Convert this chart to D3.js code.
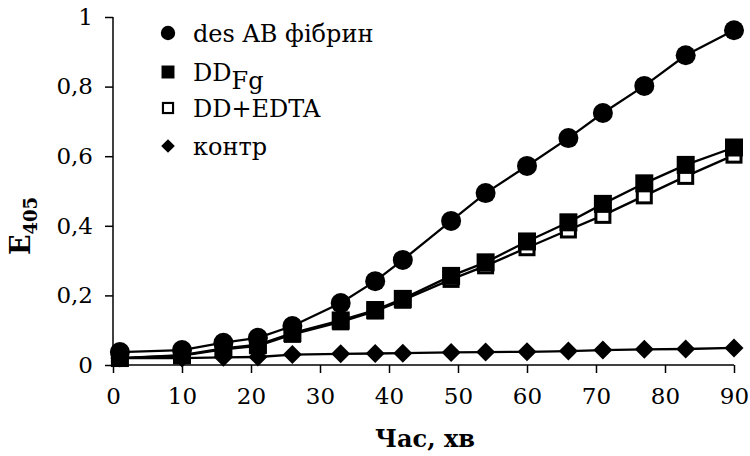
<!DOCTYPE html>
<html>
<head>
<meta charset="utf-8">
<script src="https://cdn.jsdelivr.net/npm/d3@7"></script>
<style>
  html, body { margin: 0; padding: 0; background: #fff; }
  svg { display: block; }
  text { font-family: "DejaVu Serif", "Liberation Serif", serif; fill: #000; }
</style>
</head>
<body>
<svg id="chart" width="750" height="456"></svg>
<script>
// Time points, minutes
const times = [1, 10, 16, 21, 26, 33, 38, 42, 49, 54, 60, 66, 71, 77, 83, 90];

// Absorbance at 405 nm for each sample
const desAB   = [0.037, 0.043, 0.064, 0.078, 0.112, 0.178, 0.241, 0.302, 0.414, 0.494, 0.572, 0.652, 0.724, 0.802, 0.890, 0.962];
const ddFg    = [0.020, 0.028, 0.048, 0.058, 0.092, 0.128, 0.158, 0.190, 0.256, 0.295, 0.355, 0.410, 0.463, 0.522, 0.575, 0.625];
const ddEdta  = [0.020, 0.027, 0.045, 0.055, 0.088, 0.124, 0.155, 0.186, 0.246, 0.285, 0.337, 0.388, 0.430, 0.486, 0.542, 0.603];
const control = [0.020, 0.020, 0.022, 0.023, 0.030, 0.032, 0.033, 0.034, 0.036, 0.037, 0.038, 0.040, 0.043, 0.045, 0.046, 0.049];

const xTicks = [0, 10, 20, 30, 40, 50, 60, 70, 80, 90];
const yTicks = [0, 0.2, 0.4, 0.6, 0.8, 1];

const svg = d3.select("#chart");
const x = d3.scaleLinear().domain([0, 90]).range([113, 734]);
const y = d3.scaleLinear().domain([0, 1]).range([365, 17]);

const fmt = v => String(+v.toFixed(1)).replace(".", ",");

// Axes
const xAxis = svg.append("g").attr("transform", `translate(0,${y(0)})`)
  .call(d3.axisBottom(x).tickValues(xTicks).tickSize(8).tickPadding(15).tickFormat(d => d));
const yAxis = svg.append("g").attr("transform", `translate(${x(0)},0)`)
  .call(d3.axisLeft(y).tickValues(yTicks).tickSize(8).tickPadding(12).tickFormat(fmt));
[xAxis, yAxis].forEach(g => {
  g.select(".domain").attr("stroke", "#000").attr("stroke-width", 1.5);
  g.selectAll(".tick line").attr("stroke", "#000").attr("stroke-width", 1.5);
  g.selectAll(".tick text").style("font-size", "23px").style("font-family", "DejaVu Serif");
});
xAxis.select(".domain").attr("d", `M${x(0)},0H${x(90)}`);
yAxis.select(".domain").attr("d", `M0,${y(1)}V${y(0)}`);

// Axis titles
svg.append("text").attr("x", 425).attr("y", 447).attr("text-anchor", "middle")
  .style("font-size", "24px").style("font-weight", "bold").text("Час, хв");
const yt = svg.append("text").attr("transform", "translate(30,226) rotate(-90)")
  .attr("text-anchor", "middle").style("font-weight", "bold");
yt.append("tspan").style("font-size", "27px").text("E");
yt.append("tspan").attr("dy", 7).style("font-size", "18px").text("405");

// Series
const series = [
  { name: "контр", values: control, shape: "diamond" },
  { name: "DD+EDTA", values: ddEdta, shape: "open" },
  { name: "DD", values: ddFg, shape: "square" },
  { name: "des AB фібрин", values: desAB, shape: "circle" }
];

const line = d3.line().x(d => x(d[0])).y(d => y(d[1]));

function marker(g, shape, cx, cy, scale) {
  if (shape === "circle") {
    g.append("circle").attr("cx", cx).attr("cy", cy).attr("r", 10 * scale).attr("fill", "#000");
  } else if (shape === "square") {
    const s = 18 * scale;
    g.append("rect").attr("x", cx - s / 2).attr("y", cy - s / 2).attr("width", s).attr("height", s).attr("fill", "#000");
  } else if (shape === "open") {
    const s = 14 * scale;
    g.append("rect").attr("x", cx - s / 2).attr("y", cy - s / 2).attr("width", s).attr("height", s)
      .attr("fill", "#fff").attr("stroke", "#000").attr("stroke-width", 3 * scale);
  } else {
    const s = 9.5 * scale;
    g.append("path").attr("d", `M${cx},${cy - s}L${cx + s},${cy}L${cx},${cy + s}L${cx - s},${cy}Z`).attr("fill", "#000");
  }
}

series.forEach(s => {
  const pts = times.map((t, i) => [t, s.values[i]]);
  const g = svg.append("g");
  g.append("path").datum(pts).attr("d", line).attr("fill", "none").attr("stroke", "#000").attr("stroke-width", 2.3);
  pts.forEach(p => marker(g, s.shape, x(p[0]), y(p[1]), 1));
});

// Legend
const legend = [
  { label: "des AB фібрин", shape: "circle", cy: 33 },
  { label: "DD", sub: "Fg", shape: "square", cy: 72 },
  { label: "DD+EDTA", shape: "open", cy: 108 },
  { label: "контр", shape: "diamond", cy: 146 }
];
const lg = svg.append("g");
legend.forEach(d => {
  marker(lg, d.shape, 168, d.cy, 0.72);
  const t = lg.append("text").attr("x", 193).attr("y", d.cy + 9).style("font-size", "24px");
  t.append("tspan").text(d.label);
  if (d.sub) t.append("tspan").attr("dy", 8).text(d.sub);
});
</script>
</body>
</html>
